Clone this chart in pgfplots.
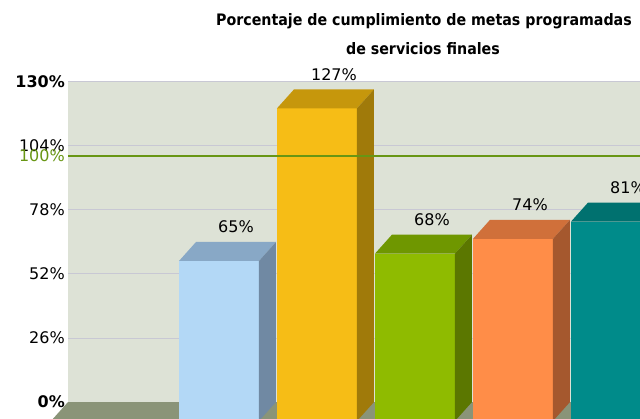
\documentclass[border=0pt]{standalone}
\usepackage{fontspec}
\setmainfont{DejaVu Sans}
\newfontfamily\titlefont{DejaVu Sans Condensed}
\usepackage{pgfplots}
\pgfplotsset{compat=1.18}
\definecolor{wall}{RGB}{221,226,214}
\definecolor{floorc}{RGB}{138,148,120}
\definecolor{gridc}{RGB}{200,200,212}
\definecolor{goal}{RGB}{104,150,20}
\definecolor{bF}{RGB}{179,216,246}\definecolor{bT}{RGB}{136,168,198}\definecolor{bS}{RGB}{112,137,163}
\definecolor{yF}{RGB}{246,189,22}\definecolor{yT}{RGB}{198,151,12}\definecolor{yS}{RGB}{160,122,10}
\definecolor{gF}{RGB}{143,187,0}\definecolor{gT}{RGB}{111,151,0}\definecolor{gS}{RGB}{91,119,0}
\definecolor{oF}{RGB}{255,141,72}\definecolor{oT}{RGB}{208,112,58}\definecolor{oS}{RGB}{165,88,46}
\definecolor{tF}{RGB}{0,139,138}\definecolor{tT}{RGB}{0,113,111}\definecolor{tS}{RGB}{0,95,94}
% 3D bar mark: origin = centre of the back top edge
\newcommand\declbar[4]{%
  \pgfdeclareplotmark{#1}{%
    \pgfmathsetmacro\bh{\rawy*2.461538}%
    \pgfmathsetmacro\bb{-19-\bh}%
    \pgfsetfillcolor{#2}%
    \pgfpathrectangle{\pgfpoint{-57pt}{\bb pt}}{\pgfpoint{80pt}{\bh pt}}%
    \pgfusepath{fill}%
    \pgfsetfillcolor{#3}%
    \pgfpathmoveto{\pgfpoint{-57pt}{-19pt}}\pgfpathlineto{\pgfpoint{23pt}{-19pt}}%
    \pgfpathlineto{\pgfpoint{40pt}{0pt}}\pgfpathlineto{\pgfpoint{-40pt}{0pt}}\pgfpathclose
    \pgfusepath{fill}%
    \pgfsetfillcolor{#4}%
    \pgfpathmoveto{\pgfpoint{23pt}{-19pt}}\pgfpathlineto{\pgfpoint{40pt}{0pt}}%
    \pgfpathlineto{\pgfpoint{40pt}{-\bh pt}}\pgfpathlineto{\pgfpoint{23pt}{\bb pt}}\pgfpathclose
    \pgfusepath{fill}%
  }}
\declbar{barB}{bF}{bT}{bS}
\declbar{barY}{yF}{yT}{yS}
\declbar{barG}{gF}{gT}{gS}
\declbar{barO}{oF}{oT}{oS}
\declbar{barT}{tF}{tT}{tS}
\pgfplotsset{
  bar3d/.style={only marks, mark=#1,
    visualization depends on={rawy \as \rawy},
    nodes near coords, point meta=explicit symbolic,
    nodes near coords style={font=\fontsize{16}{16}\selectfont, anchor=base,
      yshift=9pt, inner sep=0pt, text=black}},
  geom/.style={at={(68pt,16pt)}, anchor=south west,
    scale only axis, width=658pt, height=320pt,
    xmin=-0.714, xmax=6, ymin=0, ymax=130, clip=false},
}
\begin{document}
\begin{tikzpicture}
\useasboundingbox (0,0) rectangle (640pt,418pt);
\clip (0,0) rectangle (640pt,418pt);
\begin{axis}[
  geom,
  axis line style={draw=none},
  major tick length=0pt,
  xtick=\empty,
  ytick={0,26,52,78,104,130},
  yticklabels={\textbf{0\%},26\%,52\%,78\%,104\%,\textbf{130\%}},
  yticklabel style={font=\fontsize{16}{16}\selectfont, inner sep=0pt, xshift=-3pt, anchor=east},
  ymajorgrids, grid style={gridc, line width=1pt},
  extra y ticks={100}, extra y tick labels={100\%},
  extra y tick style={grid=none, yticklabel style={text=goal}},
  axis background/.style={fill=wall},
]
% floor
\addplot[fill=floorc, draw=none] coordinates {(-0.714,0) (6,0) (5.8265,-7.72) (-0.8875,-7.72)};
% bars (value at back face)
\addplot[bar3d=barB] coordinates {(1,65) [65\%]};
\addplot[bar3d=barY] coordinates {(2,127) [127\%]};
\addplot[bar3d=barG] coordinates {(3,68) [68\%]};
\addplot[bar3d=barO] coordinates {(4,74) [74\%]};
\addplot[bar3d=barT] coordinates {(5,81) [81\%]};
\end{axis}
% 100% goal line, drawn over the bars in an overlaid axis
\begin{axis}[geom, hide axis]
\addplot[goal, line width=1.5pt] coordinates {(-0.714,100) (5.6,100)};
\end{axis}
\node[font=\titlefont\bfseries\fontsize{15.8}{15.8}\selectfont, anchor=base] at (424pt,392pt) {Porcentaje de cumplimiento de metas programadas};
\node[font=\titlefont\bfseries\fontsize{15.8}{15.8}\selectfont, anchor=base] at (423pt,363pt) {de servicios finales};
\end{tikzpicture}
\end{document}
